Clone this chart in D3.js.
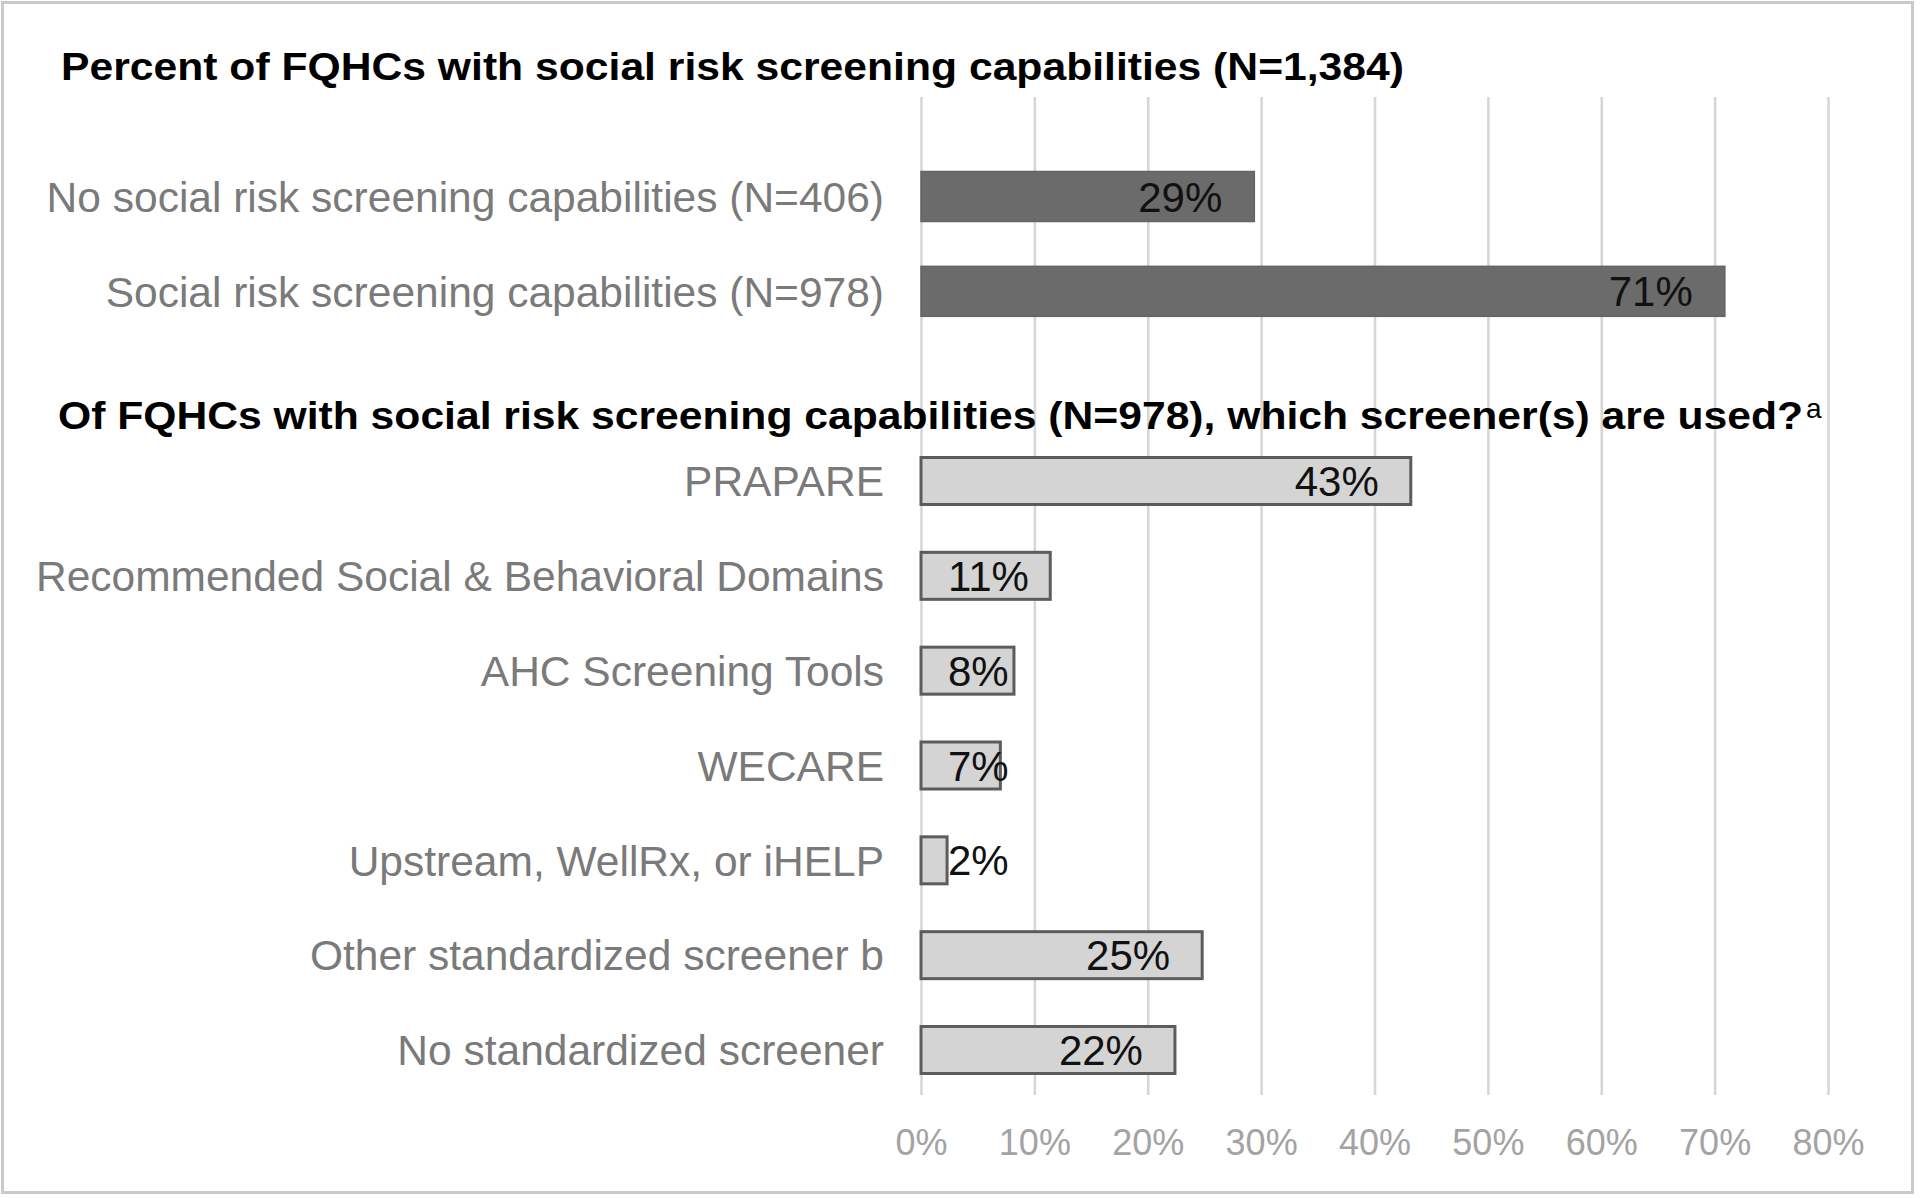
<!DOCTYPE html>
<html>
<head>
<meta charset="utf-8">
<script src="https://cdn.jsdelivr.net/npm/d3@7"></script>
<style>
  html, body { margin: 0; padding: 0; background: #fff; }
  svg { display: block; }
  text { font-family: "Liberation Sans", Arial, sans-serif; }
</style>
</head>
<body>
<svg id="chart" width="1920" height="1198"></svg>
<script>
// ---- Data ----
const title1 = "Percent of FQHCs with social risk screening capabilities (N=1,384)";
const title2 = "Of FQHCs with social risk screening capabilities (N=978), which screener(s) are used?";
const title2Sup = "a";

const capabilityCategories = [
  "No social risk screening capabilities (N=406)",
  "Social risk screening capabilities (N=978)"
];
const capabilityValues = [0.294, 0.709];

const screenerCategories = [
  "PRAPARE",
  "Recommended Social & Behavioral Domains",
  "AHC Screening Tools",
  "WECARE",
  "Upstream, WellRx, or iHELP",
  "Other standardized screener b",
  "No standardized screener"
];
const screenerValues = [0.432, 0.114, 0.082, 0.070, 0.023, 0.248, 0.224];

const xTicks = [0, 0.1, 0.2, 0.3, 0.4, 0.5, 0.6, 0.7, 0.8];

// ---- Layout ----
const svg = d3.select("#chart");

// outer frame
svg.append("rect")
  .attr("x", 2.5).attr("y", 2.5)
  .attr("width", 1910).attr("height", 1190)
  .attr("fill", "#fff").attr("stroke", "#cacaca").attr("stroke-width", 3);

const x = d3.scaleLinear().domain([0, 0.8]).range([921, 1828]);
// row index -> vertical centre (row 2 is the gap holding the second heading)
const y = d3.scaleLinear().domain([0, 9]).range([196.5, 1050]);

const gridTop = 97, gridBottom = 1095;

// gridlines + tick labels through a D3 axis
const axis = d3.axisBottom(x)
  .tickValues(xTicks)
  .tickFormat(d3.format(".0%"))
  .tickSize(-(gridBottom - gridTop))
  .tickPadding(0);

const ag = svg.append("g")
  .attr("transform", `translate(0,${gridBottom})`)
  .call(axis);
ag.select(".domain").remove();
ag.selectAll(".tick line").attr("stroke", "#d6d6d6").attr("stroke-width", 2.5);
ag.selectAll(".tick text")
  .attr("y", 47).attr("dy", "0.35em")
  .attr("fill", "#a3a3a3")
  .style("font-size", "36px")
  .style("font-family", "'Liberation Sans', Arial, sans-serif");

// titles
svg.append("text")
  .attr("x", 61).attr("y", 67).attr("dy", "0.35em")
  .attr("fill", "#000").style("font-weight", "bold").style("font-size", "38px")
  .attr("textLength", 1343).attr("lengthAdjust", "spacingAndGlyphs")
  .text(title1);

const t2 = svg.append("text")
  .attr("x", 58).attr("y", 416).attr("dy", "0.35em")
  .attr("fill", "#000").style("font-weight", "bold").style("font-size", "38px");
t2.append("tspan")
  .attr("textLength", 1745).attr("lengthAdjust", "spacingAndGlyphs")
  .text(title2);
t2.append("tspan")
  .attr("dx", 3).attr("dy", "-0.4em")
  .style("font-size", "28px").style("font-weight", "normal")
  .text(title2Sup);

// rows
const rowsTop = capabilityCategories.map((c, i) => ({cat: c, val: capabilityValues[i], row: i, kind: "top"}));
const rowsBottom = screenerCategories.map((c, i) => ({cat: c, val: screenerValues[i], row: i + 3, kind: "bottom"}));
const rows = rowsTop.concat(rowsBottom);

const labelX = 884;
svg.append("g").selectAll("text").data(rows).join("text")
  .attr("x", labelX).attr("y", d => y(d.row)).attr("dy", "0.36em")
  .attr("text-anchor", "end")
  .attr("fill", "#7a7a7a")
  .style("font-size", "42.5px")
  .text(d => d.cat);

// bars
const topH = 50, botH = 47;
svg.append("g").selectAll("rect").data(rows).join("rect")
  .attr("x", x(0))
  .attr("y", d => y(d.row) - (d.kind === "top" ? topH : botH) / 2)
  .attr("width", d => x(d.val) - x(0))
  .attr("height", d => d.kind === "top" ? topH : botH)
  .attr("fill", d => d.kind === "top" ? "#6b6b6b" : "#d4d4d4")
  .attr("stroke", d => d.kind === "top" ? "#646464" : "#5c5c5c")
  .attr("stroke-width", d => d.kind === "top" ? 1.5 : 3);

// value labels (inside end, clamped to inside base)
const fmt = d3.format(".0%");
const vl = svg.append("g").selectAll("text").data(rows).join("text")
  .attr("y", d => y(d.row)).attr("dy", "0.36em")
  .attr("fill", "#111")
  .style("font-size", "42px")
  .text(d => fmt(d.val));
vl.each(function(d) {
  const w = this.getComputedTextLength();
  const left = Math.max(x(0) + 27, x(d.val) - 32 - w);
  d3.select(this).attr("x", left);
});
</script>
</body>
</html>
